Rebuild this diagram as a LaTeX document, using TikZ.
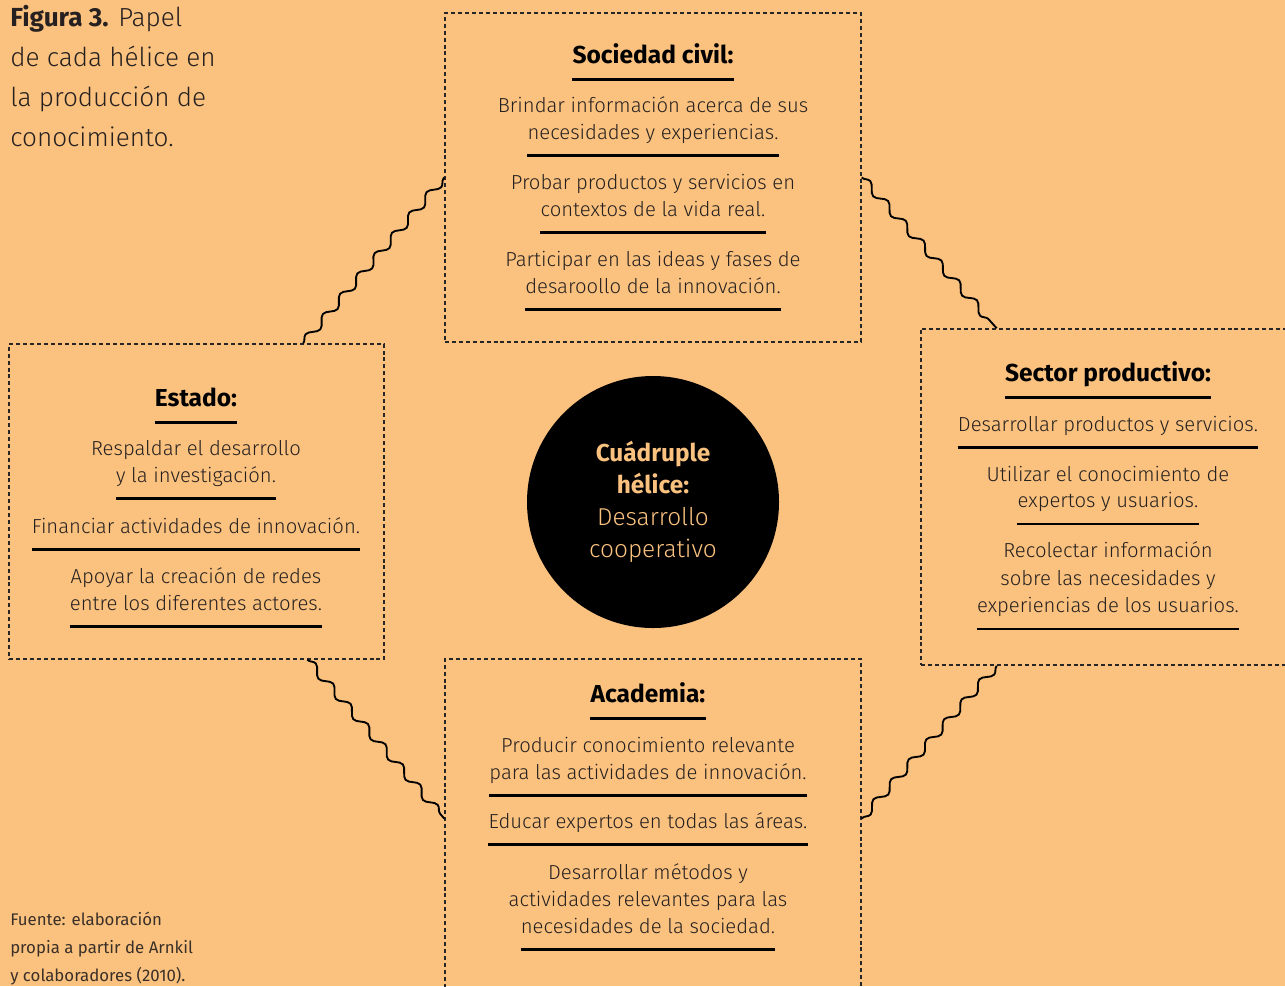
\documentclass[tikz,border=0pt]{standalone}
\usepackage{fontspec}
\setmainfont{Fira Sans Light}[BoldFont={Fira Sans Bold}]
\newfontfamily\notafont{Fira Sans}
\usetikzlibrary{decorations.pathmorphing,calc}

\definecolor{fondo}{HTML}{FBC27F}
\definecolor{tinta}{HTML}{262120}
\definecolor{gris}{HTML}{3A3028}

\tikzset{
  caja/.style={draw=black!85, line width=1.1pt, dash pattern=on 3pt off 2.2pt, inner sep=0pt},
  helice/.style={line width=1.4pt, decorate, decoration={snake, segment length=20pt, amplitude=3pt}},
  titulo/.style={anchor=base, inner sep=0pt, text=black, font=\fontsize{18.4}{21}\selectfont\bfseries},
  texto/.style={anchor=base, inner sep=0pt, text=tinta, font=\fontsize{15.2}{18}\selectfont},
  leyenda/.style={anchor=base west, inner sep=0pt, text=tinta, font=\fontsize{19.6}{23}\selectfont},
  nota/.style={anchor=base west, inner sep=0pt, text=gris, font=\notafont\fontsize{12.6}{15}\selectfont},
  regla/.style={line width=2.2pt, black},
}
% underline below the last line of an item
\newcommand{\subrayar}[1]{\draw[regla] ($(#1.base west)+(0,16.5)$) -- ($(#1.base east)+(0,16.5)$);}

\begin{document}
\begin{tikzpicture}[x=0.75pt,y=0.75pt,yscale=-1,xscale=1]
\useasboundingbox (0,0) rectangle (1285,986);
\fill[fondo] (0,0) rectangle (1285,986);
\clip (0,0) rectangle (1285,986);

%Shape: Boxes
\node[caja, minimum width=312pt, minimum height=246.75pt] (sociedad) at (653,177.5) {};
\node[caja, minimum width=281.25pt, minimum height=236.25pt] (estado) at (196.5,501.5) {};
\node[caja, minimum width=284.25pt, minimum height=252pt] (sector) at (1110.5,497) {};
\node[caja, minimum width=312pt, minimum height=255.75pt] (academia) at (653,829.5) {};

%Shape: Circle
\node[circle, fill=black, minimum size=189pt, inner sep=0pt, align=center, text=fondo, font=\fontsize{18.3}{24}\selectfont] (nucleo) at (653,502) {\textbf{Cuádruple}\\\textbf{hélice:}\\Desarrollo\\cooperativo};

%Shape: Waves
\draw[helice] (estado.56) -- (sociedad.west);
\draw[helice] (sociedad.east) -- (sector.124);
\draw[helice] (sector.236) -- (academia.3);
\draw[helice] (estado.305) -- (academia.177);

% Text Node
\node[leyenda] (fig1) at (10,26) {\textbf{Figura 3.} Papel};
\node[leyenda] (fig2) at (10,66) {de cada hélice en};
\node[leyenda] (fig3) at (10,106) {la producción de};
\node[leyenda] (fig4) at (10,146) {conocimiento.};

% Text Node
\node[titulo] (tsoc) at (653,63) {Sociedad civil:};
\subrayar{tsoc}
\node[texto] (s1) at (653,112) {Brindar información acerca de sus};
\node[texto] (s2) at (653,139) {necesidades y experiencias.};
\subrayar{s2}
\node[texto] (s3) at (653,189) {Probar productos y servicios en};
\node[texto] (s4) at (653,216) {contextos de la vida real.};
\subrayar{s4}
\node[texto] (s5) at (653,266) {Participar en las ideas y fases de};
\node[texto] (s6) at (653,293) {desaroollo de la innovación.};
\subrayar{s6}

% Text Node
\node[titulo] (test) at (196,406) {Estado:};
\subrayar{test}
\node[texto] (e1) at (196,455) {Respaldar el desarrollo};
\node[texto] (e2) at (196,482) {y la investigación.};
\subrayar{e2}
\node[texto] (e3) at (196,533) {Financiar actividades de innovación.};
\subrayar{e3}
\node[texto] (e4) at (196,583) {Apoyar la creación de redes};
\node[texto] (e5) at (196,610) {entre los diferentes actores.};
\subrayar{e5}

% Text Node
\node[titulo] (tsec) at (1108,381) {Sector productivo:};
\subrayar{tsec}
\node[texto] (p1) at (1108,431) {Desarrollar productos y servicios.};
\subrayar{p1}
\node[texto] (p2) at (1108,481) {Utilizar el conocimiento de};
\node[texto] (p3) at (1108,507.5) {expertos y usuarios.};
\subrayar{p3}
\node[texto] (p4) at (1108,557.5) {Recolectar información};
\node[texto] (p5) at (1108,585) {sobre las necesidades y};
\node[texto] (p6) at (1108,612.5) {experiencias de los usuarios.};
\subrayar{p6}

% Text Node
\node[titulo] (taca) at (648,702) {Academia:};
\subrayar{taca}
\node[texto] (a1) at (648,752) {Producir conocimiento relevante};
\node[texto] (a2) at (648,779) {para las actividades de innovación.};
\subrayar{a2}
\node[texto] (a3) at (648,828) {Educar expertos en todas las áreas.};
\subrayar{a3}
\node[texto] (a4) at (648,879) {Desarrollar métodos y};
\node[texto] (a5) at (648,906) {actividades relevantes para las};
\node[texto] (a6) at (648,933) {necesidades de la sociedad.};
\subrayar{a6}

% Text Node
\node[nota] (n1) at (10,925) {Fuente: elaboración};
\node[nota] (n2) at (10,953) {propia a partir de Arnkil};
\node[nota] (n3) at (10,981) {y colaboradores (2010).};

\end{tikzpicture}
\end{document}
